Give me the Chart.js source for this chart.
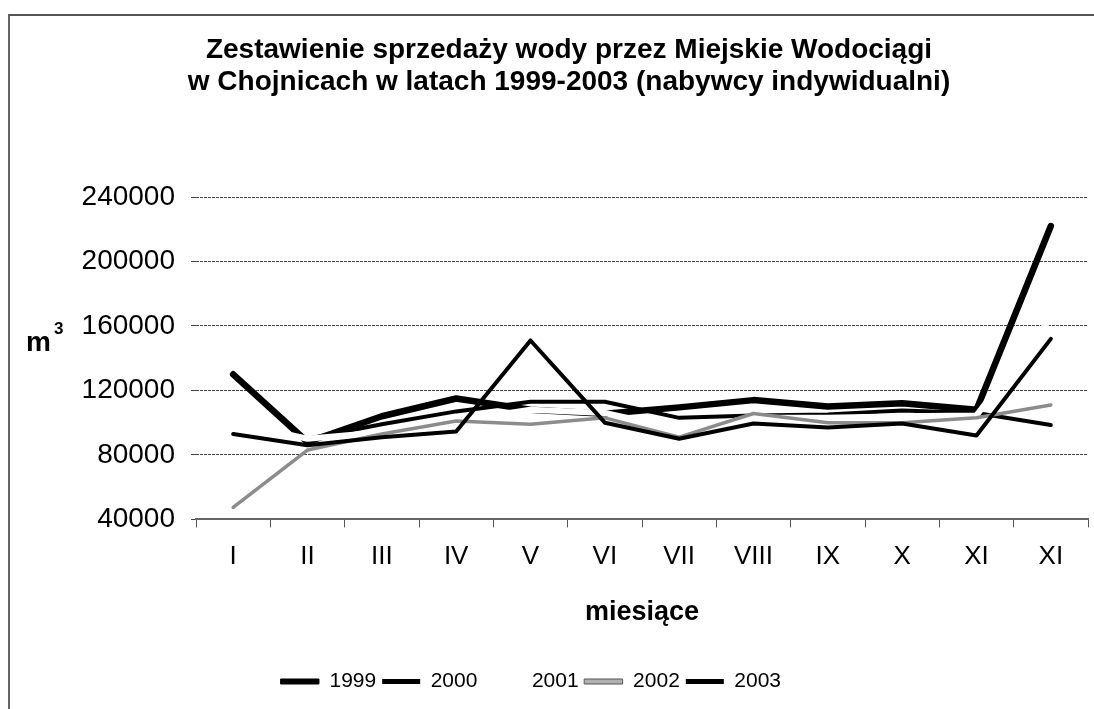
<!DOCTYPE html>
<html>
<head>
<meta charset="utf-8">
<script src="https://cdn.jsdelivr.net/npm/chart.js@4.4.0/dist/chart.umd.min.js"></script>
<style>
    html, body { margin: 0; padding: 0; background: #fff; }
    #wrap { position: relative; width: 1094px; height: 709px; overflow: hidden; }
    #frame { position: absolute; left: 8px; top: 14px; right: -10px; bottom: -10px; border-top: 2px solid #555; border-left: 2px solid #666; }
    canvas { position: absolute; left: 0; top: 0; }
</style>
</head>
<body>
<div id="wrap">
    <div id="frame"></div>
    <canvas id="waterChart" width="1094" height="709"></canvas>
</div>
<script>
// ===== DATA =====
const months = ['I', 'II', 'III', 'IV', 'V', 'VI', 'VII', 'VIII', 'IX', 'X', 'XI', 'XI'];
const yTicks = [40000, 80000, 120000, 160000, 200000, 240000];

const sales1999 = [130000, 88000, 104000, 115000, 108000, 105500, 109500, 114000, 110000, 112000, 108000, 222000];
const sales2000 = [100000, 90000, 99000, 107000, 113000, 113000, 103000, 104500, 105000, 107500, 106000, 98500];
const sales2001 = [100000, 90000, 94000, 101000, 108000, 106000, 96000, 103000, 103000, 104000, 104500, 165000];
const sales2002 = [47500, 83000, 93000, 101000, 99000, 103000, 91000, 105700, 100000, 100000, 103000, 111000];
const sales2003 = [93000, 86000, 91000, 94500, 151000, 100000, 90000, 99500, 97000, 99500, 92000, 152000];

const SANS = "'Liberation Sans', Arial, sans-serif";

Chart.defaults.color = '#000';

// legend samples: fill colour + outline width
const legendLook = [
    { fill: '#000', stroke: '#000', width: 1 },
    { fill: '#000', stroke: '#000', width: 0 },
    { fill: '#fff', stroke: '#fff', width: 0 },
    { fill: '#b0b0b0', stroke: '#555', width: 1 },
    { fill: '#000', stroke: '#000', width: 0 }
];

// "m3" label next to the y axis, drawn flat
const unitLabel = {
    id: 'unitLabel',
    afterDraw(chart) {
        const c = chart.ctx;
        c.save();
        c.fillStyle = '#000';
        c.textBaseline = 'alphabetic';
        c.font = 'bold 28px ' + SANS;
        c.fillText('m', 26, 351);
        c.font = 'bold 17px ' + SANS;
        c.fillText('3', 54, 334);
        c.restore();
    }
};

// title and legend are not centred on the canvas in the original
const shiftBlocks = {
    id: 'shiftBlocks',
    afterLayout(chart) {
        if (chart.titleBlock) {
            chart.titleBlock.left += 25;
            chart.titleBlock.right += 25;
        }
        if (chart.legend) {
            chart.legend.left -= 13;
            chart.legend.right -= 13;
        }
    }
};

function lineSet(label, data, color, width, order) {
    return {
        label: label,
        data: data,
        borderColor: color,
        backgroundColor: color,
        borderWidth: width,
        borderCapStyle: 'round',
        borderJoinStyle: 'round',
        pointRadius: 0,
        pointHoverRadius: 0,
        tension: 0,
        fill: false,
        order: order
    };
}

document.addEventListener('DOMContentLoaded', function() {
    const ctx = document.getElementById('waterChart');

    new Chart(ctx, {
        type: 'line',
        data: {
            labels: months,
            datasets: [
                lineSet('1999', sales1999, '#000', 6.5, 5),
                lineSet('2000', sales2000, '#000', 4, 4),
                lineSet('2001', sales2001, '#fff', 6, 3),
                lineSet('2002', sales2002, '#8c8c8c', 3.5, 2),
                lineSet('2003', sales2003, '#000', 4, 1)
            ]
        },
        plugins: [unitLabel, shiftBlocks],
        options: {
            responsive: false,
            animation: false,
            events: [],
            layout: {
                padding: { top: 12, left: 0, right: 6, bottom: 7 }
            },
            plugins: {
                title: {
                    display: true,
                    text: ['Zestawienie sprzedaży wody przez Miejskie Wodociągi',
                           'w Chojnicach w latach 1999-2003 (nabywcy indywidualni)'],
                    font: { family: SANS, size: 28, weight: 'bold', lineHeight: '32px' },
                    color: '#000',
                    padding: { top: 22, bottom: 99 }
                },
                legend: {
                    position: 'bottom',
                    labels: {
                        font: { family: SANS, size: 21 },
                        boxWidth: 38,
                        boxHeight: 5,
                        padding: 6,
                        color: '#000',
                        sort: function(a, b) { return a.datasetIndex - b.datasetIndex; },
                        generateLabels: function(chart) {
                            const items = Chart.defaults.plugins.legend.labels.generateLabels(chart);
                            items.forEach(item => {
                                const look = legendLook[item.datasetIndex];
                                item.fillStyle = look.fill;
                                item.strokeStyle = look.stroke;
                                item.lineWidth = look.width;
                            });
                            return items;
                        }
                    }
                },
                tooltip: { enabled: false }
            },
            scales: {
                x: {
                    offset: true,
                    grid: {
                        offset: true,
                        drawOnChartArea: false,
                        drawTicks: true,
                        tickLength: 8,
                        tickColor: '#555',
                        tickWidth: 1
                    },
                    border: { display: true, color: '#666', width: 2 },
                    ticks: {
                        font: { family: SANS, size: 26 },
                        padding: 14,
                        color: '#000',
                        maxRotation: 0,
                        autoSkip: false
                    },
                    title: {
                        display: true,
                        text: 'miesiące',
                        font: { family: SANS, size: 27, weight: 'bold' },
                        color: '#000',
                        padding: { top: 10, bottom: 36 }
                    }
                },
                y: {
                    min: 40000,
                    max: 240000,
                    afterBuildTicks: function(scale) {
                        scale.ticks = yTicks.map(v => ({ value: v }));
                    },
                    afterFit: function(scale) {
                        scale.width = 196;
                    },
                    grid: {
                        color: '#444',
                        lineWidth: 1,
                        tickLength: 5,
                        tickColor: '#444'
                    },
                    border: { display: false, dash: [3, 1] },
                    ticks: {
                        font: { family: SANS, size: 28 },
                        padding: 16,
                        color: '#000',
                        callback: function(value) {
                            return String(value);
                        }
                    }
                }
            }
        }
    });
});
</script>
</body>
</html>
